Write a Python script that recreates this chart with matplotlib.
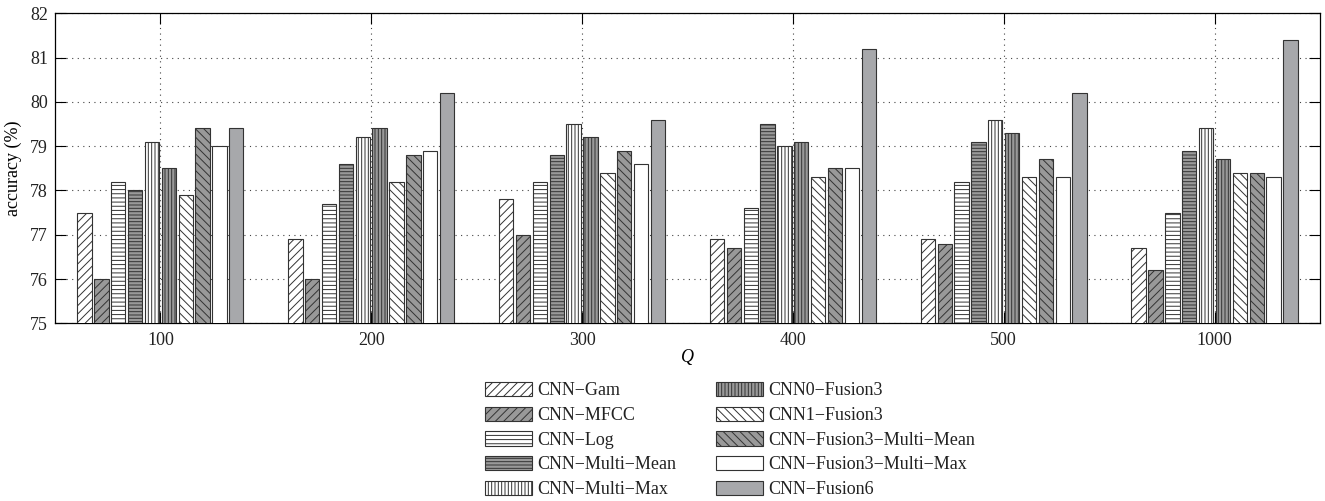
import numpy as np
import matplotlib
matplotlib.use("Agg")
import matplotlib.pyplot as plt

plt.rcParams['font.family'] = ['Liberation Serif', 'DejaVu Serif']
plt.rcParams['font.size'] = 13
plt.rcParams['hatch.linewidth'] = 0.7
plt.rcParams['text.color'] = '#222222'
plt.rcParams['xtick.labelcolor'] = '#222222'
plt.rcParams['ytick.labelcolor'] = '#222222'

# data
q_labels = ["100", "200", "300", "400", "500", "1000"]
methods = [
    "CNN\u2212Gam",
    "CNN\u2212MFCC",
    "CNN\u2212Log",
    "CNN\u2212Multi\u2212Mean",
    "CNN\u2212Multi\u2212Max",
    "CNN0\u2212Fusion3",
    "CNN1\u2212Fusion3",
    "CNN\u2212Fusion3\u2212Multi\u2212Mean",
    "CNN\u2212Fusion3\u2212Multi\u2212Max",
    "CNN\u2212Fusion6",
]
cnn_gam = [77.5, 76.9, 77.8, 76.9, 76.9, 76.7]
cnn_mfcc = [76.0, 76.0, 77.0, 76.7, 76.8, 76.2]
cnn_log = [78.2, 77.7, 78.2, 77.6, 78.2, 77.5]
cnn_multi_mean = [78.0, 78.6, 78.8, 79.5, 79.1, 78.9]
cnn_multi_max = [79.1, 79.2, 79.5, 79.0, 79.6, 79.4]
cnn0_fusion3 = [78.5, 79.4, 79.2, 79.1, 79.3, 78.7]
cnn1_fusion3 = [77.9, 78.2, 78.4, 78.3, 78.3, 78.4]
fusion3_multi_mean = [79.4, 78.8, 78.9, 78.5, 78.7, 78.4]
fusion3_multi_max = [79.0, 78.9, 78.6, 78.5, 78.3, 78.3]
cnn_fusion6 = [79.4, 80.2, 79.6, 81.2, 80.2, 81.4]

series = [cnn_gam, cnn_mfcc, cnn_log, cnn_multi_mean, cnn_multi_max,
          cnn0_fusion3, cnn1_fusion3, fusion3_multi_mean, fusion3_multi_max,
          cnn_fusion6]

# (facecolor, hatch) per series
grey = '#999999'
styles = [
    ('white', '////'),
    (grey, '////'),
    ('white', '----'),
    (grey, '-----'),
    ('white', '|||||'),
    (grey, '|||||'),
    ('white', '\\\\\\\\'),
    (grey, '\\\\\\\\'),
    ('white', None),
    ('#a7a8ab', None),
]

fig = plt.figure(figsize=(13.25, 5.01), dpi=100)
ax = fig.add_axes([0.0415, 0.3547, 0.9547, 0.6187])

x = np.arange(1, len(q_labels) + 1)
slot = 0.08
width = 0.068
for i, (vals, name, (fc, hatch)) in enumerate(zip(series, methods, styles)):
    ax.bar(x + (i - 4.5) * slot, vals, width, color=fc, edgecolor='#333333',
           hatch=hatch, linewidth=0.8, label=name, zorder=3)

ax.set_xlim(0.5, 6.5)
ax.set_ylim(75, 82)
ax.set_xticks(x)
ax.set_xticklabels(q_labels)
ax.set_yticks(np.arange(75, 83, 1))
ax.grid(True, linestyle=(0, (1, 4)), color='#444444', linewidth=0.8, zorder=0)
ax.tick_params(direction='in', length=8, top=True, right=True, width=0.8)
ax.tick_params(axis='x', pad=6)
ax.tick_params(axis='y', pad=5)
for s in ax.spines.values():
    s.set_linewidth(0.9)

ax.set_xlabel('Q', fontstyle='italic', labelpad=0)
ax.set_ylabel('accuracy (%)', labelpad=6)

fig.legend(loc='upper left', bbox_to_anchor=(485 / 1325, 1 - 382 / 501),
           ncol=2, frameon=False, borderpad=0, borderaxespad=0,
           handlelength=2.6, handleheight=0.85, handletextpad=0.3,
           labelspacing=0.4, columnspacing=2.2, fontsize=13)

fig.savefig('out.png', dpi=100)
